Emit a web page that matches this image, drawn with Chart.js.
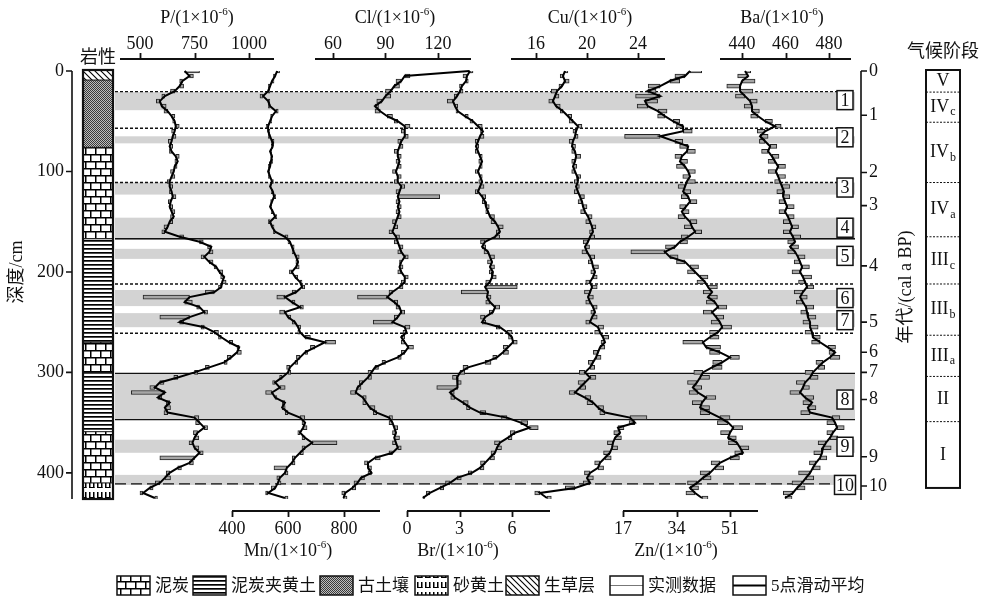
<!DOCTYPE html>
<html>
<head>
<meta charset="utf-8">
<script src="https://cdn.jsdelivr.net/npm/chart.js@4.4.1/dist/chart.umd.min.js"></script>
<style>
  html, body { margin: 0; padding: 0; background: #fff; }
  canvas { display: block; }
</style>
</head>
<body>
<canvas id="profile" width="985" height="600"></canvas>
<script>
// depth of each sample, cm
const depthCm = [
  0, 5, 10, 15, 20, 25, 30, 35, 40, 45,
  50, 55, 60, 65, 70, 75, 80, 85, 90, 95,
  100, 105, 110, 115, 120, 125, 130, 135, 140, 145,
  150, 155, 160, 165, 170, 175, 180, 185, 190, 195,
  200, 205, 210, 215, 220, 225, 230, 235, 240, 245,
  250, 255, 260, 265, 270, 275, 280, 285, 290, 295,
  300, 305, 310, 315, 320, 325, 330, 335, 340, 345,
  350, 355, 360, 365, 370, 375, 380, 385, 390, 395,
  400, 405, 410, 415, 420, 425
];

// 5点滑动平均 / 实测数据, 1e-6
const pSmooth = [
  705, 727, 695, 682, 659, 614, 591, 600, 627, 645,
  659, 664, 659, 650, 645, 636, 645, 664, 673, 659,
  655, 645, 636, 636, 645, 650, 641, 636, 645, 655,
  636, 627, 614, 682, 773, 827, 818, 795, 818, 850,
  864, 886, 877, 873, 841, 727, 705, 773, 795, 727,
  682, 795, 841, 873, 909, 955, 945, 918, 886, 818,
  750, 673, 591, 568, 614, 582, 636, 614, 627, 750,
  773, 795, 764, 750, 741, 750, 773, 750, 727, 673,
  636, 614, 591, 545, 514, 568
];
const pMeasured = [
  773, 745, 682, 700, 640, 600, 575, 620, 610, 660,
  650, 680, 645, 665, 630, 650, 635, 680, 660, 670,
  640, 660, 625, 650, 635, 665, 630, 650, 660, 640,
  650, 610, 600, 700, 790, 810, 835, 780, 835, 840,
  880, 870, 895, 860, 800, 514, 740, 760, 810, 591,
  700, 780, 860, 860, 925, 945, 965, 900, 900, 800,
  765, 655, 610, 545, 460, 600, 620, 640, 610, 770,
  755, 810, 745, 770, 725, 770, 790, 591, 745, 690,
  620, 640, 570, 560, 500, 580
];
const mnSmooth = [
  561, 554, 543, 536, 529, 511, 529, 536, 557, 543,
  536, 529, 529, 536, 543, 546, 536, 543, 539, 536,
  529, 536, 543, 536, 546, 550, 543, 536, 546, 554,
  536, 543, 554, 589, 607, 614, 621, 629, 636, 629,
  614, 625, 643, 650, 629, 589, 614, 643, 589, 600,
  625, 636, 643, 661, 732, 696, 661, 643, 625, 607,
  600, 579, 554, 571, 543, 554, 589, 579, 600, 643,
  661, 654, 643, 661, 686, 661, 643, 625, 614, 596,
  589, 571, 564, 554, 529, 589
];
const mnMeasured = [
  570, 548, 550, 530, 535, 500, 535, 530, 565, 538,
  542, 522, 535, 530, 550, 540, 542, 538, 545, 530,
  535, 530, 548, 540, 540, 556, 538, 542, 540, 560,
  530, 550, 548, 600, 600, 622, 615, 640, 628, 640,
  605, 635, 650, 660, 615, 560, 625, 655, 570, 610,
  615, 645, 635, 680, 770, 680, 670, 630, 635, 595,
  610, 570, 545, 590, 520, 560, 580, 590, 590, 660,
  650, 668, 635, 650, 775, 650, 655, 615, 625, 550,
  600, 560, 575, 540, 520, 600
];
const clSmooth = [
  138, 101, 99, 95, 93, 90, 88, 84, 87, 91,
  97, 101, 101, 101, 99, 98, 97, 97, 98, 97,
  96, 97, 97, 99, 98, 97, 98, 97, 98, 97,
  96, 95, 94, 96, 97, 98, 99, 101, 99, 98,
  99, 101, 101, 98, 94, 91, 95, 98, 99, 97,
  94, 101, 102, 99, 101, 103, 101, 97, 90, 84,
  82, 80, 77, 74, 73, 77, 79, 81, 85, 92,
  94, 95, 96, 95, 96, 97, 94, 84, 80, 80,
  82, 76, 74, 71, 67, 66
];
const clMeasured = [
  140, 104, 96, 98, 90, 93, 85, 86, 84, 94,
  95, 104, 99, 103, 97, 100, 95, 99, 96, 99,
  94, 99, 95, 101, 96, 121, 96, 99, 96, 99,
  94, 97, 92, 98, 95, 100, 97, 103, 98, 100,
  97, 103, 99, 100, 92, 74, 97, 96, 101, 95,
  83, 104, 100, 101, 99, 106, 99, 99, 88, 86,
  80, 82, 75, 76, 70, 79, 77, 84, 83, 94,
  92, 97, 94, 98, 94, 99, 92, 87, 78, 82,
  80, 78, 72, 73, 65, 68
];
const brSmooth = [
  3.6, 3.43, 3.37, 3.14, 3.03, 2.86, 2.63, 2.74, 2.91, 3.31,
  3.77, 4.06, 4.34, 4.17, 4.06, 3.94, 4.06, 4.17, 4.29, 4.17,
  4.06, 4.17, 4.29, 4.17, 4.06, 4.29, 4.46, 4.51, 4.63, 4.74,
  5.03, 5.2, 5.31, 5.03, 4.46, 4.29, 4.63, 4.74, 4.86, 4.74,
  4.91, 4.86, 4.74, 4.46, 4.63, 4.57, 4.74, 5.03, 4.91, 4.46,
  4.29, 5.31, 5.71, 6.0, 6.06, 5.77, 5.49, 5.14, 4.46, 3.49,
  3.03, 2.86, 2.86, 2.91, 2.46, 2.74, 3.2, 3.6, 4.17, 5.71,
  6.5, 7.0, 6.17, 5.77, 5.31, 5.14, 5.03, 4.74, 4.46, 4.17,
  3.71, 2.86, 2.46, 1.89, 1.31, 0.91
];
const brMeasured = [
  3.7, 3.2, 3.5, 3.0, 3.2, 2.7, 2.3, 2.9, 2.8, 3.5,
  3.6, 4.3, 4.2, 4.4, 3.9, 4.1, 3.9, 4.3, 4.1, 4.3,
  3.9, 4.3, 4.1, 4.4, 3.9, 4.5, 4.3, 4.7, 4.5, 5.0,
  4.8, 5.5, 5.1, 5.3, 4.2, 4.5, 4.4, 5.0, 4.6, 5.0,
  4.7, 5.1, 4.5, 6.3, 3.1, 4.8, 4.5, 5.3, 4.7, 4.2,
  4.5, 5.1, 6.0, 5.8, 6.3, 5.5, 5.8, 4.9, 4.8, 3.2,
  3.3, 2.6, 3.1, 1.7, 2.7, 2.5, 3.5, 3.4, 4.5, 5.4,
  6.9, 7.5, 5.9, 6.0, 5.0, 5.4, 4.8, 5.0, 4.2, 4.4,
  3.5, 3.1, 2.2, 2.1, 1.1, 1.0
];
const cuSmooth = [
  18.27, 18.12, 18.27, 18.04, 17.65, 17.49, 17.33, 17.57, 18.12, 18.51,
  18.9, 19.29, 19.14, 19.06, 18.9, 18.82, 19.06, 19.14, 19.06, 18.9,
  19.06, 19.22, 19.29, 19.14, 19.29, 19.45, 19.61, 19.69, 19.84, 20.08,
  20.24, 20.39, 20.47, 20.24, 20.08, 19.84, 20.0, 20.24, 20.39, 20.47,
  20.63, 20.47, 20.24, 20.39, 20.24, 20.08, 20.24, 20.47, 20.63, 20.39,
  20.24, 20.86, 21.02, 21.25, 21.41, 21.02, 20.86, 20.71, 20.47, 20.24,
  19.84, 20.24, 19.84, 19.45, 19.06, 19.84, 20.47, 20.86, 21.41, 23.37,
  23.76, 22.43, 22.59, 22.2, 22.04, 21.96, 21.8, 21.41, 21.02, 20.86,
  20.24, 20.0, 20.24, 19.06, 16.31, 16.86
];
const cuMeasured = [
  18.5, 17.9, 18.6, 17.8, 17.2, 17.8, 17.0, 17.9, 17.9, 18.8,
  18.6, 19.6, 18.9, 19.3, 18.6, 19.1, 18.8, 19.5, 18.8, 19.2,
  18.8, 19.5, 19.0, 19.4, 19.0, 19.8, 19.3, 20.0, 19.5, 20.4,
  19.9, 20.7, 20.2, 20.6, 19.7, 20.2, 19.6, 20.6, 20.1, 20.9,
  20.3, 20.8, 19.9, 20.8, 19.8, 20.5, 19.9, 20.8, 20.3, 20.8,
  19.9, 21.3, 20.6, 21.7, 21.1, 21.4, 20.5, 21.1, 20.1, 20.6,
  19.4, 20.7, 19.3, 19.9, 18.6, 20.3, 20.0, 21.3, 21.0, 24.7,
  23.3, 22.9, 22.1, 22.7, 21.6, 22.4, 21.3, 21.9, 20.6, 21.3,
  19.8, 20.5, 19.7, 18.3, 15.9, 17.2
];
const znSmooth = [
  38.3, 36.7, 31.9, 28.8, 24.9, 28.8, 24.0, 24.9, 28.1, 30.3,
  32.9, 36.1, 36.1, 28.8, 33.5, 37.7, 37.3, 35.7, 35.1, 36.7,
  37.7, 38.3, 37.3, 36.7, 36.1, 37.7, 38.3, 37.0, 35.7, 36.7,
  38.3, 38.9, 39.9, 37.7, 35.1, 33.5, 30.3, 31.9, 36.7, 38.3,
  39.9, 41.5, 43.1, 44.0, 45.3, 44.0, 46.2, 47.2, 45.3, 46.6,
  47.8, 48.5, 47.2, 44.6, 42.4, 43.4, 47.8, 51.0, 48.5, 45.3,
  42.4, 41.5, 40.5, 39.2, 40.8, 43.4, 42.1, 41.5, 44.6, 47.8,
  50.4, 52.0, 51.0, 50.4, 53.2, 54.2, 55.1, 51.0, 47.8, 46.2,
  44.6, 42.4, 40.5, 38.3, 39.9, 42.1
];
const znMeasured = [
  42.0, 33.5, 35.0, 25.0, 27.5, 21.0, 28.0, 21.5, 31.0, 28.0,
  35.0, 34.0, 39.0, 17.5, 36.0, 35.0, 40.0, 33.5, 37.5, 34.0,
  40.0, 36.0, 40.0, 34.5, 38.5, 35.5, 40.5, 35.0, 38.0, 34.5,
  40.5, 36.5, 42.0, 35.5, 37.5, 30.5, 19.5, 34.5, 34.0, 41.0,
  37.5, 44.0, 40.5, 47.0, 42.5, 47.0, 43.5, 50.0, 42.5, 49.0,
  45.0, 51.5, 44.5, 47.5, 36.0, 48.0, 44.5, 54.0, 45.5, 48.5,
  39.5, 44.5, 37.5, 42.0, 38.0, 46.5, 39.0, 44.5, 41.5, 51.0,
  47.0, 55.0, 48.0, 53.0, 50.5, 57.0, 52.5, 54.0, 45.0, 49.0,
  41.5, 45.0, 37.5, 41.0, 37.0, 44.0
];
const baSmooth = [
  441.4, 442.8, 440.0, 439.1, 439.1, 441.4, 443.7, 444.6, 444.6, 447.4,
  450.6, 455.2, 450.6, 448.3, 450.6, 452.9, 452.0, 453.8, 455.2, 456.6,
  455.6, 456.6, 457.5, 458.4, 459.3, 458.9, 459.8, 460.7, 459.8, 461.1,
  462.1, 463.0, 462.1, 463.4, 464.4, 462.1, 464.4, 465.7, 466.7, 467.6,
  466.7, 468.0, 469.0, 469.9, 468.0, 466.7, 468.0, 469.4, 469.9, 470.3,
  471.3, 471.3, 472.2, 472.6, 475.9, 479.5, 482.8, 480.5, 477.2, 474.9,
  472.6, 471.3, 469.0, 468.0, 466.7, 469.0, 472.2, 470.3, 471.3, 481.4,
  482.8, 483.7, 481.8, 480.5, 478.6, 477.2, 476.8, 475.9, 474.0, 472.6,
  471.3, 469.4, 467.6, 465.3, 463.4, 459.8
];
const baMeasured = [
  444, 438, 446, 433, 445, 437, 447, 441, 448, 444,
  454, 458, 447, 452, 448, 456, 449, 457, 452, 460,
  452, 460, 455, 462, 456, 462, 457, 464, 457, 464,
  459, 466, 459, 467, 461, 466, 461, 469, 464, 471,
  463, 472, 466, 473, 464, 470, 465, 473, 467, 474,
  468, 475, 469, 476, 472, 483, 480, 485, 474, 478,
  469, 475, 465, 471, 462, 473, 468, 474, 467, 485,
  479, 487, 479, 484, 475, 481, 473, 479, 471, 476,
  466, 473, 463, 469, 459, 463
];

// tick labels of each element axis
const pTicks = [500, 750, 1000];
const mnTicks = [400, 600, 800];
const clTicks = [60, 90, 120];
const brTicks = [0, 3, 6];
const cuTicks = [16, 20, 24];
const znTicks = [17, 34, 51];
const baTicks = [440, 460, 480];

// depth axis, age axis (cal ka BP at depth)
const depthTicks = [0, 100, 200, 300, 400];
const ageLabels = ['0', '1', '2', '3', '4', '5', '6', '7', '8', '9', '10'];
const ageDepths = [0, 44, 101, 134, 194, 250, 280, 300, 327, 384, 413];

// grey bands and their numbers
const bandRanges = [[21, 39], [65, 72], [111, 123], [146, 168], [177, 187],
                    [218, 234], [241, 255], [301, 347], [367, 380], [402, 412]];
const bandLabelDepths = [29, 66, 116, 156, 184, 226, 248, 327, 374, 412];
const dashedDepths = [20.5, 57, 111, 212, 261];
const solidDepths = [167, 301, 347];
const longDashDepths = [411];

// 岩性
const lithoTop = [0, 9, 76, 167, 270, 300, 359, 410];
const lithoBottom = [9, 76, 167, 270, 300, 359, 410, 426];
const lithoKind = ['grass', 'paleosol', 'peat', 'peatLoess', 'peat', 'peatLoess', 'peat', 'sand'];

// 气候阶段
const stageBounds = [0, 21, 51, 111, 165, 212, 263, 304, 349, 415];
const stageNames = ['V', 'IV', 'IV', 'IV', 'III', 'III', 'III', 'II', 'I'];
const stageSubs = ['', 'c', 'b', 'a', 'c', 'b', 'a', '', ''];

// ---- layout ----
const AREA_LEFT = 115, AREA_RIGHT = 857, AREA_TOP = 71, AREA_BOTTOM = 499;
const SERIF = '"Liberation Serif", "Noto Sans CJK SC", serif';
const INK = '#111';

// pixel position of first/last tick, axis line extent, title centre
const axisLayout = {
    xP:  { pos: 'top',    first: 140, last: 249, line: [120, 274], title: 197 },
    xMn: { pos: 'bottom', first: 232, last: 344, line: [232, 380], title: 288 },
    xCl: { pos: 'top',    first: 333, last: 438, line: [315, 471], title: 395 },
    xBr: { pos: 'bottom', first: 407, last: 512, line: [407, 550], title: 458 },
    xCu: { pos: 'top',    first: 536, last: 638, line: [511, 665], title: 590 },
    xZn: { pos: 'bottom', first: 623, last: 730, line: [623, 758], title: 676 },
    xBa: { pos: 'top',    first: 742, last: 829, line: [720, 851], title: 782 }
};

const elements = [
    { id: 'xP',  name: 'P',  smooth: pSmooth,  measured: pMeasured,  ticks: pTicks },
    { id: 'xMn', name: 'Mn', smooth: mnSmooth, measured: mnMeasured, ticks: mnTicks },
    { id: 'xCl', name: 'Cl', smooth: clSmooth, measured: clMeasured, ticks: clTicks },
    { id: 'xBr', name: 'Br', smooth: brSmooth, measured: brMeasured, ticks: brTicks },
    { id: 'xCu', name: 'Cu', smooth: cuSmooth, measured: cuMeasured, ticks: cuTicks },
    { id: 'xZn', name: 'Zn', smooth: znSmooth, measured: znMeasured, ticks: znTicks },
    { id: 'xBa', name: 'Ba', smooth: baSmooth, measured: baMeasured, ticks: baTicks }
];

const canvas = document.getElementById('profile');
const mainCtx = canvas.getContext('2d');

// Узоры для колонки литологии
function makePattern(kind) {
    const c = document.createElement('canvas');
    let w = 8, h = 8;
    if (kind === 'peat') { w = 20; h = 14; }
    if (kind === 'peatLoess') { w = 4; h = 4; }
    if (kind === 'paleosol') { w = 2; h = 2; }
    if (kind === 'sand') { w = 8; h = 10; }
    if (kind === 'grass') { w = 6; h = 6; }
    c.width = w; c.height = h;
    const g = c.getContext('2d');
    g.fillStyle = '#fff';
    g.fillRect(0, 0, w, h);
    g.fillStyle = '#000';
    if (kind === 'peat') {
        g.fillRect(0, 0, 20, 1.5); g.fillRect(0, 7, 20, 1.5);
        g.fillRect(0, 0, 1.5, 7); g.fillRect(10, 0, 1.5, 7);
        g.fillRect(5, 7, 1.5, 7); g.fillRect(15, 7, 1.5, 7);
    } else if (kind === 'peatLoess') {
        g.fillRect(0, 0, 4, 1.7);
    } else if (kind === 'paleosol') {
        g.fillStyle = '#bdbdbd'; g.fillRect(0, 0, 2, 2);
        g.fillStyle = '#3a3a3a'; g.fillRect(0, 0, 1, 1); g.fillRect(1, 1, 1, 1);
    } else if (kind === 'sand') {
        g.fillRect(1, 2, 1.5, 6); g.fillRect(5, 2, 1.5, 6);
        g.fillRect(1, 7, 5.5, 1);
    } else if (kind === 'grass') {
        g.strokeStyle = '#000'; g.lineWidth = 1.1;
        g.beginPath();
        g.moveTo(-1, -1); g.lineTo(7, 7);
        g.moveTo(-1, 5); g.lineTo(1, 7);
        g.moveTo(5, -1); g.lineTo(7, 1);
        g.stroke();
    }
    return mainCtx.createPattern(c, 'repeat');
}
const patterns = {};
['peat', 'peatLoess', 'paleosol', 'sand', 'grass'].forEach(k => { patterns[k] = makePattern(k); });

// text with a superscript "-6"
function drawUnitTitle(ctx, name, cx, cy) {
    const head = name + '/(1×10';
    ctx.font = '18px ' + SERIF;
    const w1 = ctx.measureText(head).width;
    const w3 = ctx.measureText(')').width;
    ctx.font = '11px ' + SERIF;
    const w2 = ctx.measureText('-6').width;
    let x = cx - (w1 + w2 + w3) / 2;
    ctx.textAlign = 'left';
    ctx.textBaseline = 'middle';
    ctx.font = '18px ' + SERIF;
    ctx.fillText(head, x, cy);
    x += w1;
    ctx.font = '11px ' + SERIF;
    ctx.fillText('-6', x, cy - 6);
    x += w2;
    ctx.font = '18px ' + SERIF;
    ctx.fillText(')', x, cy);
}

function drawRoman(ctx, name, sub, cx, cy) {
    ctx.font = '18px ' + SERIF;
    const w1 = ctx.measureText(name).width;
    ctx.font = '12px ' + SERIF;
    const w2 = sub ? ctx.measureText(sub).width + 1 : 0;
    let x = cx - (w1 + w2) / 2;
    ctx.textAlign = 'left';
    ctx.textBaseline = 'middle';
    ctx.font = '18px ' + SERIF;
    ctx.fillText(name, x, cy);
    if (sub) {
        ctx.font = '12px ' + SERIF;
        ctx.fillText(sub, x + w1 + 1, cy + 5);
    }
}

function hLine(ctx, y, x0, x1, dash, width) {
    ctx.beginPath();
    ctx.setLineDash(dash);
    ctx.lineWidth = width;
    ctx.moveTo(x0, y);
    ctx.lineTo(x1, y);
    ctx.stroke();
    ctx.setLineDash([]);
}

const decorPlugin = {
    id: 'decor',
    beforeDraw(chart) {
        const ctx = chart.ctx;
        ctx.save();
        ctx.fillStyle = '#fff';
        ctx.fillRect(0, 0, chart.width, chart.height);
        ctx.restore();
    },
    beforeDatasetsDraw(chart) {
        const ctx = chart.ctx;
        const ys = chart.scales.depth;
        const x0 = 115, x1 = 855;
        ctx.save();
        ctx.fillStyle = '#d3d3d3';
        bandRanges.forEach(([a, b]) => {
            const y1 = ys.getPixelForValue(a), y2 = ys.getPixelForValue(b);
            ctx.fillRect(x0, y1, x1 - x0, y2 - y1);
        });
        ctx.strokeStyle = INK;
        dashedDepths.forEach(d => hLine(ctx, ys.getPixelForValue(d), x0, x1, [3, 2], 1.3));
        solidDepths.forEach(d => hLine(ctx, ys.getPixelForValue(d), x0, x1, [], 1.4));
        longDashDepths.forEach(d => hLine(ctx, ys.getPixelForValue(d), x0, x1, [11, 5], 1.3));
        ctx.restore();
    },
    afterDatasetsDraw(chart) {
        const ctx = chart.ctx;
        const ys = chart.scales.depth;
        const yOf = d => ys.getPixelForValue(d);
        ctx.save();
        ctx.fillStyle = INK;
        ctx.strokeStyle = INK;

        // numbered boxes
        bandLabelDepths.forEach((d, i) => {
            const label = String(i + 1);
            const w = label.length > 1 ? 21 : 16;
            const cx = 845;
            const cy = yOf(d);
            ctx.fillStyle = '#fff';
            ctx.fillRect(cx - w / 2, cy - 9.5, w, 19);
            ctx.lineWidth = 1.5;
            ctx.strokeRect(cx - w / 2, cy - 9.5, w, 19);
            ctx.fillStyle = INK;
            ctx.font = '18px ' + SERIF;
            ctx.textAlign = 'center';
            ctx.textBaseline = 'middle';
            ctx.fillText(label, cx, cy + 1);
        });

        // element axes
        elements.forEach(el => {
            const lay = axisLayout[el.id];
            const sc = chart.scales[el.id];
            const top = lay.pos === 'top';
            const ly = top ? 59 : 511;
            ctx.lineWidth = 1.8;
            ctx.beginPath();
            ctx.moveTo(lay.line[0], ly);
            ctx.lineTo(lay.line[1], ly);
            el.ticks.forEach(t => {
                const px = Math.round(sc.getPixelForValue(t)) + 0.5;
                ctx.moveTo(px, ly);
                ctx.lineTo(px, top ? ly - 6 : ly + 6);
            });
            ctx.stroke();
            ctx.font = '18px ' + SERIF;
            ctx.textAlign = 'center';
            ctx.textBaseline = 'middle';
            el.ticks.forEach(t => {
                ctx.fillText(String(t), sc.getPixelForValue(t), top ? 44 : 529);
            });
            drawUnitTitle(ctx, el.name, lay.title, top ? 18 : 551);
        });

        // depth axis
        const yTop = AREA_TOP, yBot = AREA_BOTTOM;
        ctx.lineWidth = 1.6;
        ctx.beginPath();
        ctx.moveTo(72, yTop);
        ctx.lineTo(72, yBot);
        depthTicks.forEach(d => {
            const py = yOf(d);
            ctx.moveTo(66, py);
            ctx.lineTo(72, py);
        });
        ctx.stroke();
        ctx.font = '18px ' + SERIF;
        ctx.textAlign = 'right';
        ctx.textBaseline = 'middle';
        depthTicks.forEach(d => ctx.fillText(String(d), 64, yOf(d)));
        ctx.save();
        ctx.translate(17, 272);
        ctx.rotate(-Math.PI / 2);
        ctx.textAlign = 'center';
        ctx.font = '18px ' + SERIF;
        ctx.fillText('深度/cm', 0, 0);
        ctx.restore();

        // age axis
        ctx.lineWidth = 1.6;
        ctx.beginPath();
        ctx.moveTo(861, yTop);
        ctx.lineTo(861, yBot + 1);
        ageDepths.forEach(d => {
            const py = yOf(d);
            ctx.moveTo(861, py);
            ctx.lineTo(867, py);
        });
        ctx.stroke();
        ctx.textAlign = 'left';
        ageDepths.forEach((d, i) => ctx.fillText(ageLabels[i], 869, yOf(d)));
        ctx.save();
        ctx.translate(906, 287);
        ctx.rotate(-Math.PI / 2);
        ctx.textAlign = 'center';
        ctx.font = '18px ' + SERIF;
        ctx.fillText('年代/(cal a BP)', 0, 0);
        ctx.restore();

        // lithology column
        const cx0 = 83, cw = 30;
        lithoKind.forEach((k, i) => {
            const a = i === 0 ? yTop - 1 : yOf(lithoTop[i]);
            const b = yOf(lithoBottom[i]);
            ctx.fillStyle = patterns[k];
            ctx.fillRect(cx0, a, cw, b - a);
            ctx.strokeStyle = INK;
            hLine(ctx, a, cx0, cx0 + cw, [], 1);
        });
        ctx.lineWidth = 2.2;
        ctx.strokeStyle = INK;
        ctx.strokeRect(cx0, yTop - 1, cw, yBot - yTop + 1);
        ctx.fillStyle = INK;
        ctx.font = '18px ' + SERIF;
        ctx.textAlign = 'center';
        ctx.fillText('岩性', 98, 58);

        // climate stages
        const sx0 = 926, sw = 34;
        const sTop = yOf(stageBounds[0]) - 1, sBot = yOf(stageBounds[stageBounds.length - 1]);
        ctx.strokeStyle = INK;
        for (let i = 1; i < stageBounds.length - 1; i++) {
            hLine(ctx, yOf(stageBounds[i]), sx0, sx0 + sw, [2, 1.5], 1);
        }
        ctx.lineWidth = 2;
        ctx.strokeRect(sx0, sTop, sw, sBot - sTop);
        ctx.fillStyle = INK;
        stageNames.forEach((n, i) => {
            const cy = (yOf(stageBounds[i]) + yOf(stageBounds[i + 1])) / 2;
            drawRoman(ctx, n, stageSubs[i], sx0 + sw / 2, cy);
        });
        ctx.font = '18px ' + SERIF;
        ctx.textAlign = 'center';
        ctx.textBaseline = 'middle';
        ctx.fillText('气候阶段', 943, 52);

        // legend
        const ly = 576, lh = 19, lw = 33;
        const legendItems = [
            { kind: 'peat', label: '泥炭', x: 117 },
            { kind: 'peatLoess', label: '泥炭夹黄土', x: 193 },
            { kind: 'paleosol', label: '古土壤', x: 320 },
            { kind: 'sand', label: '砂黄土', x: 415 },
            { kind: 'grass', label: '生草层', x: 506 },
            { kind: 'measured', label: '实测数据', x: 610 },
            { kind: 'smooth', label: '5点滑动平均', x: 733 }
        ];
        legendItems.forEach(it => {
            if (patterns[it.kind]) {
                ctx.fillStyle = patterns[it.kind];
                ctx.fillRect(it.x, ly, lw, lh);
            } else {
                ctx.fillStyle = '#fff';
                ctx.fillRect(it.x, ly, lw, lh);
                ctx.strokeStyle = it.kind === 'smooth' ? '#000' : '#777';
                hLine(ctx, ly + lh / 2, it.x, it.x + lw, [], it.kind === 'smooth' ? 2 : 1.2);
            }
            ctx.strokeStyle = INK;
            ctx.lineWidth = 1.5;
            ctx.strokeRect(it.x, ly, lw, lh);
            ctx.fillStyle = INK;
            ctx.font = '17px ' + SERIF;
            ctx.textAlign = 'left';
            ctx.textBaseline = 'middle';
            ctx.fillText(it.label, it.x + lw + 5, ly + lh / 2 + 1);
        });
        ctx.restore();
    }
};

// Шкалы: у каждого элемента своя ось X
const scales = {
    depth: { type: 'linear', axis: 'y', reverse: true, min: 0, max: 426, offset: false, grid: { offset: false }, display: false }
};
const areaWidth = AREA_RIGHT - AREA_LEFT;
elements.forEach(el => {
    const lay = axisLayout[el.id];
    const k = (lay.last - lay.first) / (el.ticks[el.ticks.length - 1] - el.ticks[0]);
    const min = el.ticks[0] - (lay.first - AREA_LEFT) / k;
    scales[el.id] = { type: 'linear', axis: 'x', position: lay.pos, min: min, max: min + areaWidth / k, offset: false, display: false };
});

const datasets = [];
elements.forEach(el => {
    datasets.push({
        type: 'bar',
        label: el.name + ' 实测数据',
        indexAxis: 'y',
        xAxisID: el.id,
        yAxisID: 'depth',
        data: depthCm.map((d, i) => ({ y: d, x: [el.smooth[i], el.measured[i]] })),
        backgroundColor: '#a6a6a6',
        borderColor: '#222',
        borderWidth: 1,
        borderSkipped: false,
        barThickness: 4,
        grouped: false,
        order: 2
    });
    datasets.push({
        type: 'line',
        label: el.name + ' 5点滑动平均',
        indexAxis: 'y',
        xAxisID: el.id,
        yAxisID: 'depth',
        data: depthCm.map((d, i) => ({ y: d, x: el.smooth[i] })),
        borderColor: '#000',
        borderWidth: 2,
        pointRadius: 0,
        tension: 0,
        fill: false,
        clip: false,
        order: 1
    });
});

new Chart(mainCtx, {
    type: 'bar',
    data: { datasets: datasets },
    options: {
        responsive: false,
        animation: false,
        indexAxis: 'y',
        layout: { padding: { left: AREA_LEFT, right: 985 - AREA_RIGHT, top: AREA_TOP, bottom: 600 - AREA_BOTTOM } },
        scales: scales,
        plugins: { legend: { display: false }, tooltip: { enabled: false } }
    },
    plugins: [decorPlugin]
});
</script>
</body>
</html>
